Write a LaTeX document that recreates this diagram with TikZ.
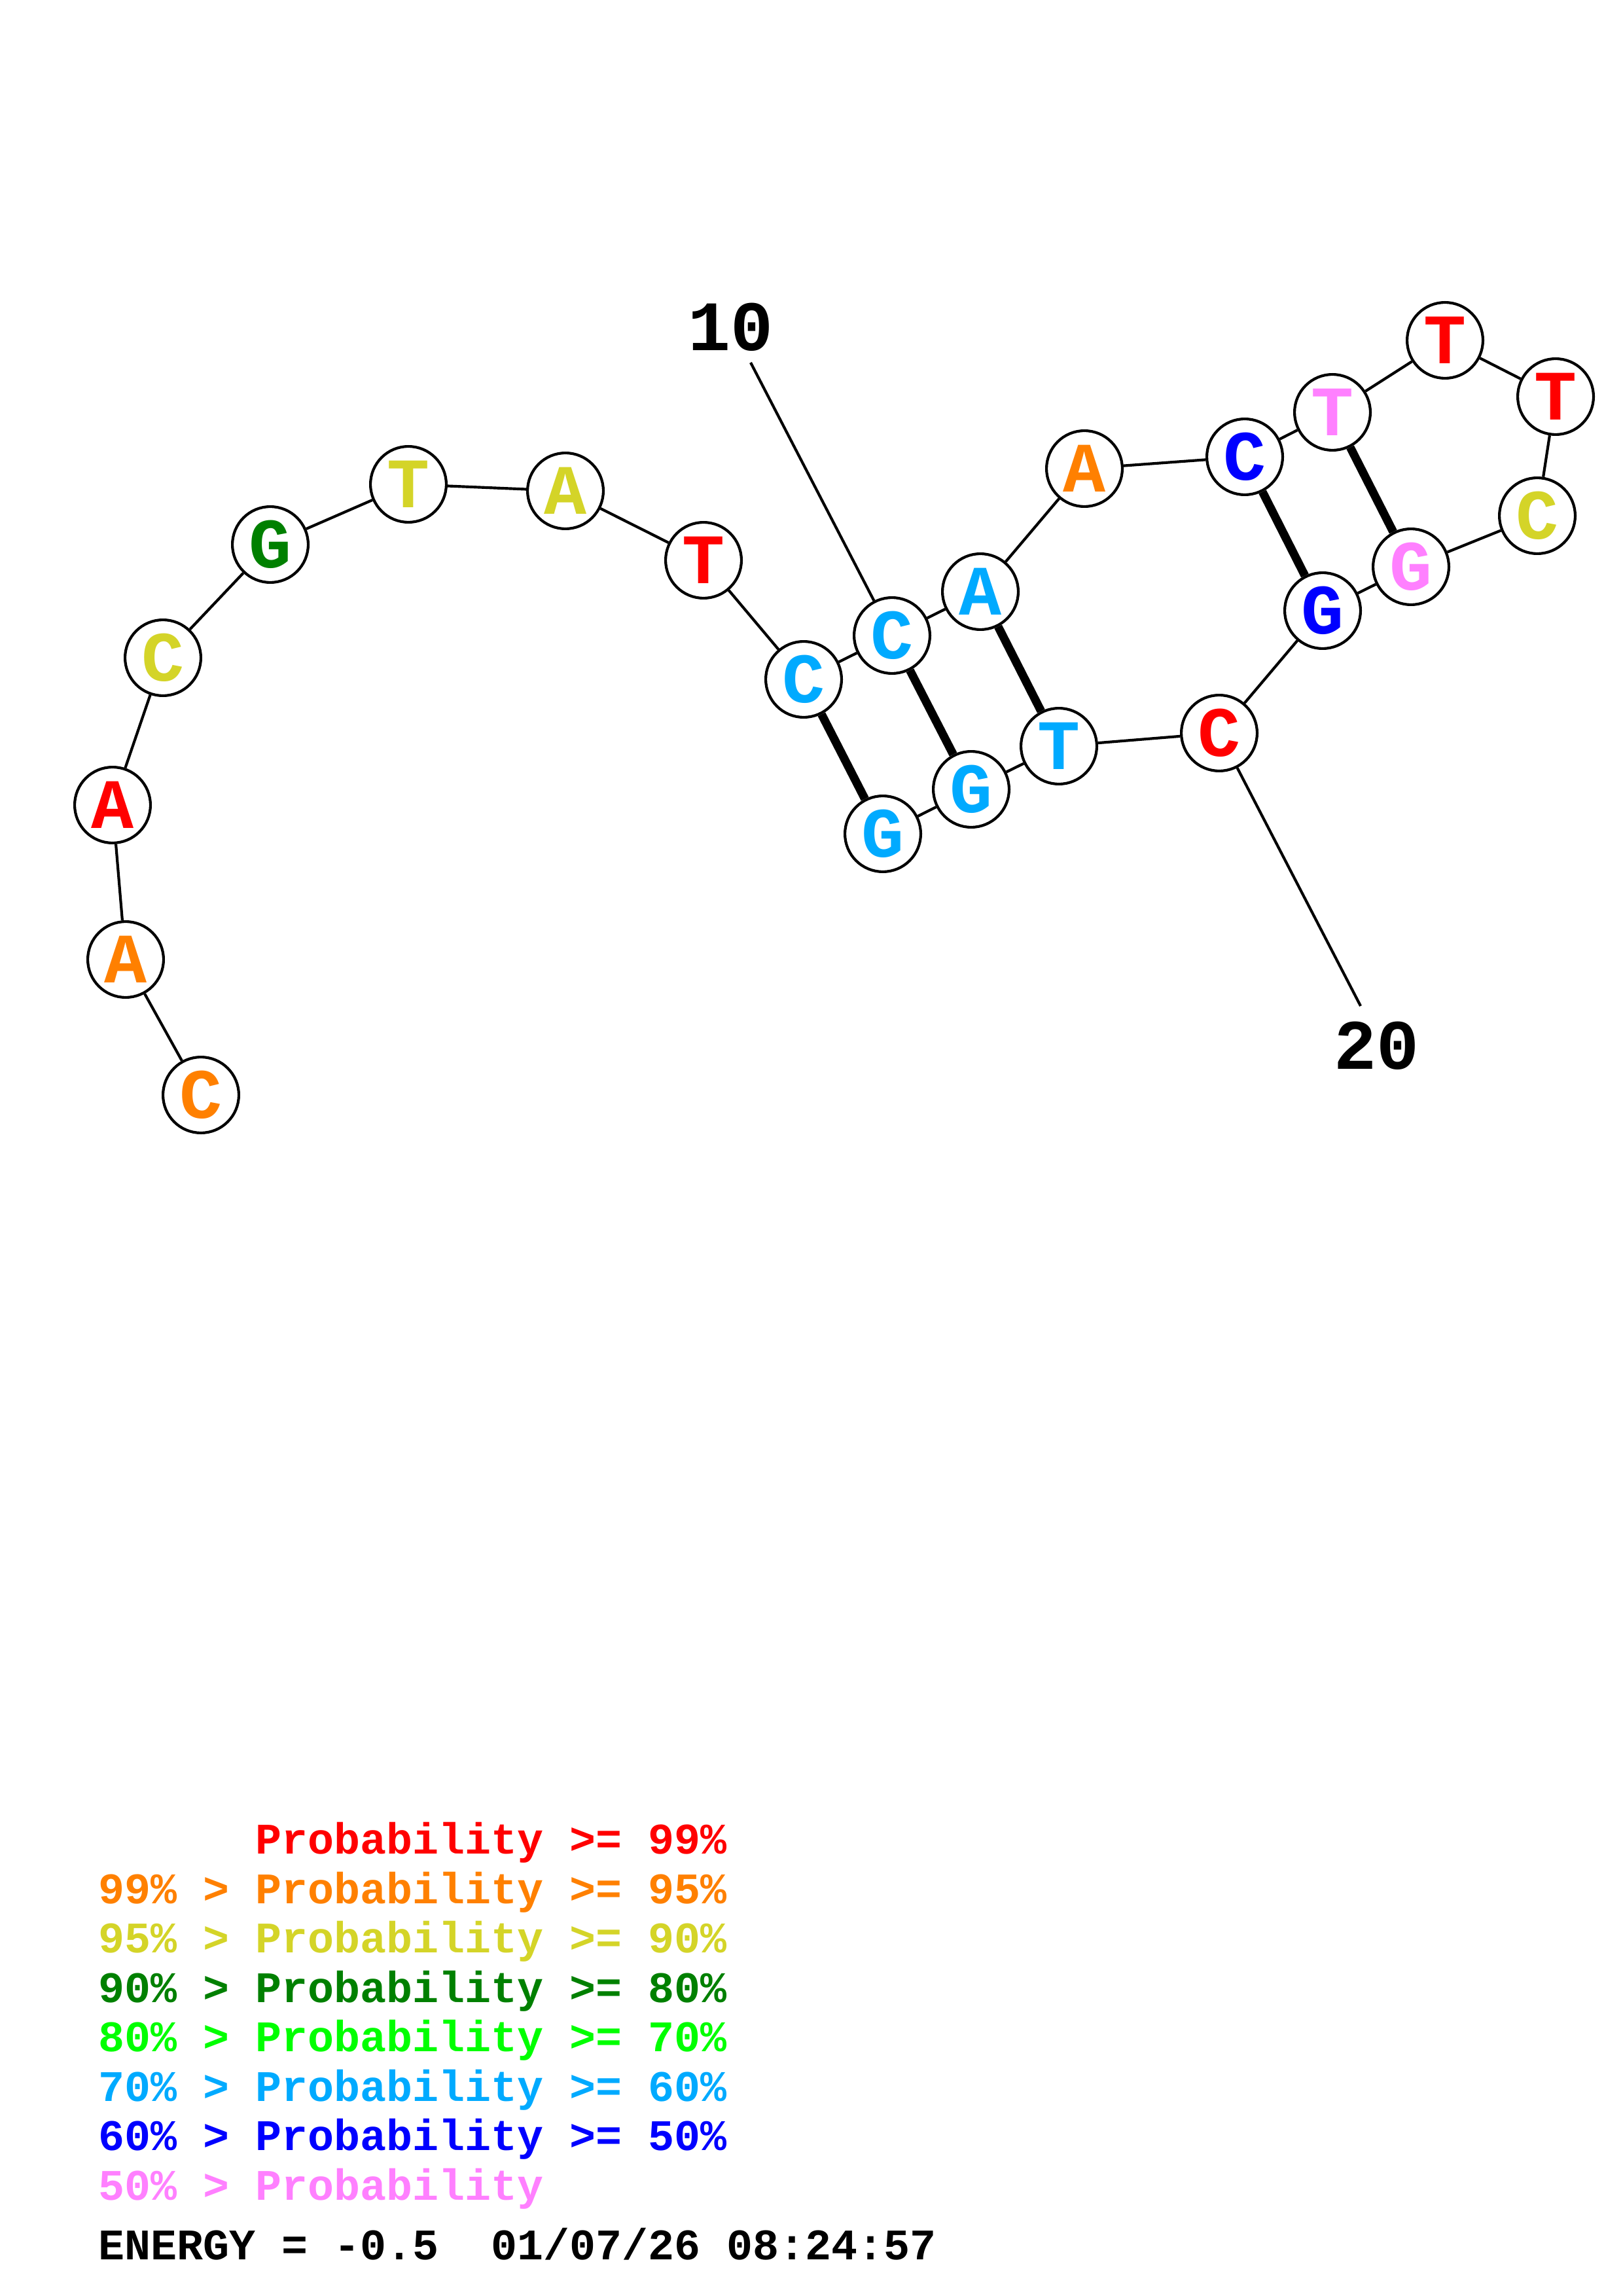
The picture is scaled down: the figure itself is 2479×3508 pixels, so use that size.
\documentclass[tikz,border=0pt]{standalone}
\usepackage{fontspec}
\setmainfont{Liberation Mono}
\definecolor{pRed}{RGB}{255,0,0}
\definecolor{pOrange}{RGB}{255,128,0}
\definecolor{pYellow}{RGB}{212,212,40}
\definecolor{pGreen}{RGB}{0,128,0}
\definecolor{pLime}{RGB}{0,255,0}
\definecolor{pCyan}{RGB}{0,170,255}
\definecolor{pBlue}{RGB}{0,0,255}
\definecolor{pPink}{RGB}{255,128,255}
\begin{document}
\begin{tikzpicture}[x=0.24pt,y=-0.24pt]
    \tikzstyle{base} = [draw, circle, fill=white, line width=1pt, minimum size=27.8pt, inner sep=0pt, font=\bfseries\fontsize{26}{26}\selectfont]
    \tikzstyle{backbone} = [line width=1pt]
    \tikzstyle{pair} = [line width=3.1pt]
    \tikzstyle{numlabel} = [inner sep=0pt, font=\bfseries\fontsize{26}{26}\selectfont]
    \tikzstyle{legend} = [anchor=base west, inner sep=0pt, font=\bfseries\fontsize{16}{16}\selectfont]
    \useasboundingbox (0,0) rectangle (2479,3508);

    % 5' tail
    \node [base, text=pOrange] (C1) at (307,1673) {C};
    \node [base, text=pOrange] (A2) at (192,1466) {A};
    \draw [backbone] (C1) -- (A2);
    \node [base, text=pRed] (A3) at (172,1230) {A};
    \draw [backbone] (A2) -- (A3);
    \node [base, text=pYellow] (C4) at (249,1005) {C};
    \draw [backbone] (A3) -- (C4);
    \node [base, text=pGreen] (G5) at (413,832) {G};
    \draw [backbone] (C4) -- (G5);
    \node [base, text=pYellow] (T6) at (624,740) {T};
    \draw [backbone] (G5) -- (T6);
    \node [base, text=pYellow] (A7) at (864,750) {A};
    \draw [backbone] (T6) -- (A7);
    \node [base, text=pRed] (T8) at (1075,856) {T};
    \draw [backbone] (A7) -- (T8);

    % outer stem, 5' side
    \node [base, text=pCyan] (C9) at (1228,1038) {C};
    \draw [backbone] (T8) -- (C9);
    \node [base, text=pCyan] (C10) at (1363,971) {C};
    \draw [backbone] (C9) -- (C10);
    \node [base, text=pCyan] (A11) at (1498,904) {A};
    \draw [backbone] (C10) -- (A11);

    % interior loop
    \node [base, text=pOrange] (A12) at (1657,716) {A};
    \draw [backbone] (A11) -- (A12);
    \node [base, text=pBlue] (C13) at (1902,698) {C};
    \draw [backbone] (A12) -- (C13);
    \node [base, text=pPink] (T14) at (2036,630) {T};
    \draw [backbone] (C13) -- (T14);

    % hairpin loop
    \node [base, text=pRed] (T15) at (2208,520) {T};
    \draw [backbone] (T14) -- (T15);
    \node [base, text=pRed] (T16) at (2377,606) {T};
    \draw [backbone] (T15) -- (T16);
    \node [base, text=pYellow] (C17) at (2349,788) {C};
    \draw [backbone] (T16) -- (C17);
    \node [base, text=pPink] (G18) at (2156,866) {G};
    \draw [backbone] (C17) -- (G18);
    \node [base, text=pBlue] (G19) at (2021,933) {G};
    \draw [backbone] (G18) -- (G19);
    \node [base, text=pRed] (C20) at (1863,1120) {C};
    \draw [backbone] (G19) -- (C20);

    % outer stem, 3' side
    \node [base, text=pCyan] (T21) at (1618,1140) {T};
    \draw [backbone] (C20) -- (T21);
    \node [base, text=pCyan] (G22) at (1484,1206) {G};
    \draw [backbone] (T21) -- (G22);
    \node [base, text=pCyan] (G23) at (1349,1274) {G};
    \draw [backbone] (G22) -- (G23);

    % base pairs
    \draw [pair] (C9) -- (G23);
    \draw [pair] (C10) -- (G22);
    \draw [pair] (A11) -- (T21);
    \draw [pair] (C13) -- (G19);
    \draw [pair] (T14) -- (G18);

    % position numbers
    \node [numlabel] (N10) at (1116,500) {10};
    \coordinate (E10) at (1147,554);
    \draw [backbone] (E10) -- (C10);
    \node [numlabel] (N20) at (2103,1598) {20};
    \coordinate (E20) at (2079,1537);
    \draw [backbone] (C20) -- (E20);

    % legend
    \node [legend, text=pRed] (L1) at (390,2832) {Probability >= 99\%};
    \node [legend, text=pOrange] (L2) at (150,2908) {99\% > Probability >= 95\%};
    \node [legend, text=pYellow] (L3) at (150,2983) {95\% > Probability >= 90\%};
    \node [legend, text=pGreen] (L4) at (150,3059) {90\% > Probability >= 80\%};
    \node [legend, text=pLime] (L5) at (150,3134) {80\% > Probability >= 70\%};
    \node [legend, text=pCyan] (L6) at (150,3210) {70\% > Probability >= 60\%};
    \node [legend, text=pBlue] (L7) at (150,3285) {60\% > Probability >= 50\%};
    \node [legend, text=pPink] (L8) at (150,3361) {50\% > Probability};
    \node [legend] (Energy) at (150,3452) {ENERGY = -0.5~ 01/07/26 08:24:57};
\end{tikzpicture}
\end{document}
